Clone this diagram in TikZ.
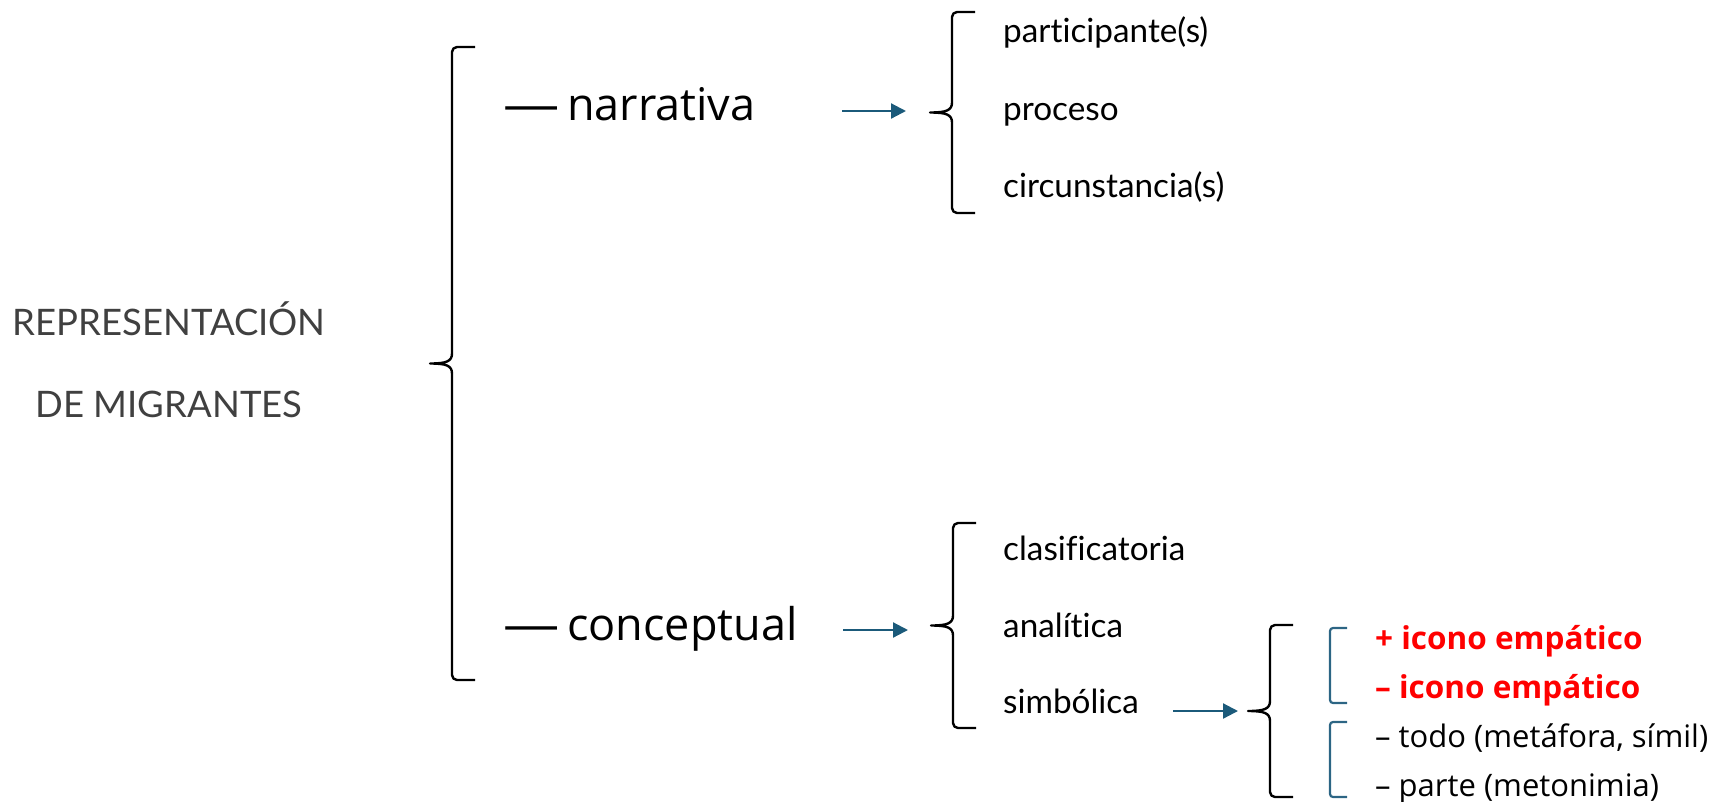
\documentclass[tikz,border=0pt]{standalone}
\usepackage{fontspec}
\setmainfont{Lato}[Ligatures=NoCommon]
\newfontfamily\opensans{Open Sans}
\usetikzlibrary{arrows.meta}
\definecolor{arrowblue}{HTML}{1B5A7A}
\definecolor{bracketblue}{HTML}{2C6584}
\definecolor{titlegray}{HTML}{404040}

%% curly brace: x of the stem, top, bottom
\newcommand\curly[3]{%
  \draw[curly line] ({#1+23},#2) -- ({#1+5},#2) to[out=180,in=90] (#1,{#2+5})
    -- (#1,{(#2+#3)/2-10}) .. controls (#1,{(#2+#3)/2-2}) and ({#1-6},{(#2+#3)/2}) .. ({#1-22},{(#2+#3)/2})
    .. controls ({#1-6},{(#2+#3)/2}) and (#1,{(#2+#3)/2+2}) .. (#1,{(#2+#3)/2+10})
    -- (#1,{#3-5}) to[out=-90,in=180] ({#1+5},#3) -- ({#1+23},#3);}
%% long dash before a branch
\newcommand\longdash{\scalebox{1.25}[1]{—}\hspace{-4pt}}

\begin{document}
\begin{tikzpicture}[x=1pt,y=-1pt,
  curly line/.style={line width=2.4pt,line join=round},
  bracket line/.style={bracketblue,line width=2.2pt,rounded corners=3pt},
  link/.style={arrowblue,line width=2.2pt,-{Triangle[length=15pt,width=15pt]}},
  title/.style={anchor=base,inner sep=0pt,text=titlegray,font=\fontsize{36.5}{44}\selectfont},
  branch/.style={anchor=base west,inner sep=0pt,font=\opensans\fontsize{45}{52}\selectfont},
  item/.style={anchor=base west,inner sep=0pt,font=\fontsize{33.3}{40}\selectfont},
  leaf/.style={anchor=base west,inner sep=0pt,font=\opensans\fontsize{31}{37}\selectfont},
  hot leaf/.style={leaf,text=red,font=\opensans\bfseries\fontsize{31.5}{37}\selectfont}]
  \useasboundingbox (0,0) rectangle (1719,801);

  %% title
  \node[title] (title1) at (169,335) {REPRESENTACIÓN};
  \node[title] (title2) at (169,417) {DE MIGRANTES};
  \curly{452}{47}{680}

  %% two branches
  \node[branch] (narr) at (503,120) {\longdash{} narrativa};
  \node[branch] (conc) at (503,640) {\longdash{} conceptual};

  %% narrativa
  \coordinate (narr out) at (842,111);
  \coordinate (narr in) at (906,111);
  \draw[link] (narr out) -- (narr in);
  \curly{952}{12}{213}
  \node[item] (part) at (1003,42) {participante(s)};
  \node[item] (proc) at (1003,120) {proceso};
  \node[item] (circ) at (1003,197) {circunstancia(s)};

  %% conceptual
  \coordinate (conc out) at (843,630);
  \coordinate (conc in) at (908,630);
  \draw[link] (conc out) -- (conc in);
  \curly{953}{523}{728}
  \node[item] (clas) at (1003,560) {clasificatoria};
  \node[item] (anal) at (1003,637) {analítica};
  \node[item] (simb) at (1003,713) {simbólica};

  %% simbolica
  \coordinate (simb out) at (1173,711);
  \coordinate (simb in) at (1238,711);
  \draw[link] (simb out) -- (simb in);
  \curly{1270}{625}{797}
  \draw[bracket line] (1347,628) -- (1330,628) -- (1330,703) -- (1347,703);
  \draw[bracket line] (1347,722) -- (1330,722) -- (1330,797) -- (1347,797);
  \node[hot leaf] (plus) at (1375,649) {+ icono empático};
  \node[hot leaf] (minus) at (1375,698) {– icono empático};
  \node[leaf] (todo) at (1375,747) {– todo (metáfora, símil)};
  \node[leaf] (parte) at (1375,796) {– parte (metonimia)};
\end{tikzpicture}
\end{document}
